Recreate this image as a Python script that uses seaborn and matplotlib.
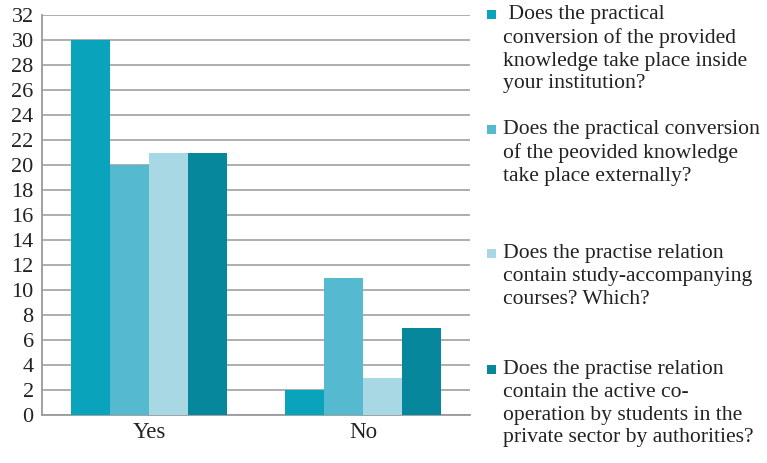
import matplotlib
matplotlib.use("Agg")
import matplotlib.pyplot as plt
import seaborn as sns
import pandas as pd
from matplotlib.patches import Rectangle

answers = ["Yes", "No"]
questions = [
    " Does the practical\nconversion of the provided\nknowledge take place inside\nyour institution?",
    "Does the practical conversion\nof the peovided knowledge\ntake place externally?",
    "Does the practise relation\ncontain study-accompanying\ncourses? Which?",
    "Does the practise relation\ncontain the active co-\noperation by students in the\nprivate sector by authorities?",
]
inside_values = [30, 2]
external_values = [20, 11]
courses_values = [21, 3]
cooperation_values = [21, 7]
y_ticks = list(range(0, 33, 2))

colors = ["#0AA3BC", "#55BAD0", "#A8D8E4", "#07879C"]

rows = []
for q, vals in zip(questions, [inside_values, external_values, courses_values, cooperation_values]):
    for a, v in zip(answers, vals):
        rows.append({"answer": a, "question": q, "count": v})
df = pd.DataFrame(rows)

sns.set_style("white")
plt.rcParams["font.family"] = ["Liberation Serif", "DejaVu Serif"]

fig = plt.figure(figsize=(7.67, 4.63), dpi=100)
W, H = 767, 463
ax = fig.add_axes([42 / W, 1 - 415 / H, (470 - 42) / W, 400 / H])

sns.barplot(data=df, x="answer", y="count", hue="question", order=answers,
            hue_order=questions, palette=colors, width=0.73, saturation=1,
            edgecolor="none", linewidth=0, ax=ax, legend=False, zorder=3)

ax.set_ylim(0, 32)
ax.set_xlim(-0.5, 1.5)
ax.set_yticks(y_ticks)
ax.set_yticklabels([str(t) for t in y_ticks], fontsize=16, color="#222222")
ax.tick_params(axis="x", labelsize=16.5, colors="#222222", length=0, pad=5)
ax.tick_params(axis="y", length=4, width=1, color="#9a9a9a", pad=2)
ax.set_xlabel("")
ax.set_ylabel("")
ax.yaxis.grid(True, color="#a8a8a8", linewidth=1.3, zorder=0)
ax.set_axisbelow(True)
for s in ["top", "right"]:
    ax.spines[s].set_visible(False)
for s in ["left", "bottom"]:
    ax.spines[s].set_color("#9a9a9a")
    ax.spines[s].set_linewidth(1.3)

# Legend drawn entry by entry to follow the uneven vertical spacing
entry_tops = [5, 120, 244, 360]
for q, c, top in zip(questions, colors, entry_tops):
    fig.patches.append(Rectangle((487 / W, 1 - (top + 14) / H), 9 / W, 9 / H,
                                 transform=fig.transFigure, facecolor=c,
                                 edgecolor="none"))
    fig.text(503 / W, 1 - top / H, q, fontsize=15.6, color="#222222",
             va="top", ha="left", linespacing=1.27)

fig.savefig("out.png", dpi=100)
